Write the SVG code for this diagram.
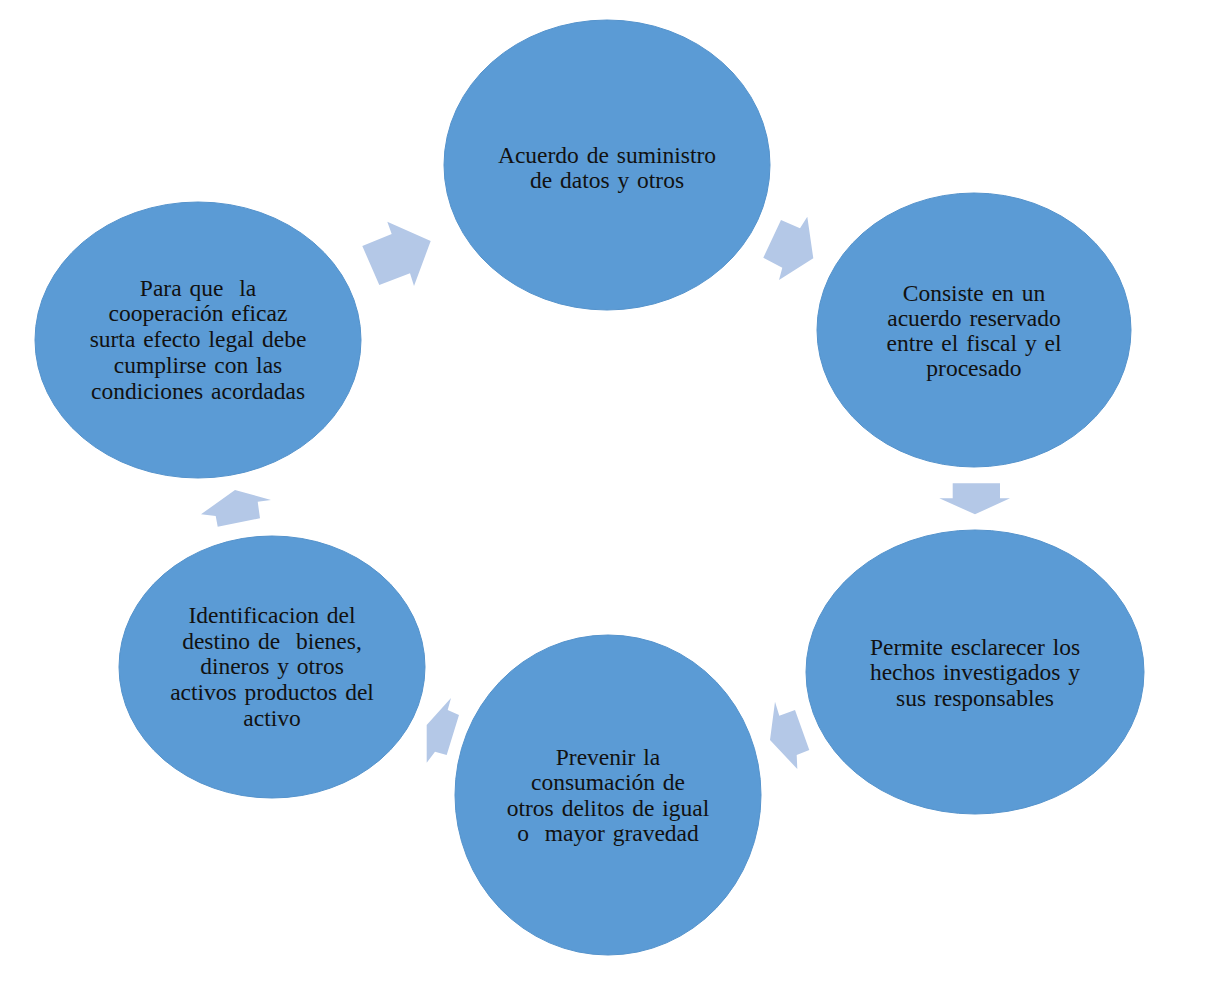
<svg xmlns="http://www.w3.org/2000/svg" width="1207" height="991" viewBox="0 0 1207 991" xml:space="preserve">
<style>
.n{fill:#5B9BD5;stroke:#5593CC;stroke-width:1}
.a{fill:#B4C8E7}
text{font-family:"Liberation Serif","Times New Roman",serif;font-size:23.5px;fill:#111;text-anchor:middle;word-spacing:2px;white-space:pre}
</style>
<rect width="1207" height="991" fill="#fff"/>
<g id="connectors">
<polygon class="a" points="362.3,246 391.7,234 387.3,221.7 430.7,241 414,286 410,273.3 379.3,285"/>
<polygon class="a" points="781,220 800,228.3 807.3,216.7 813.3,258.3 779,280 782.3,267.7 763.3,257.7"/>
<polygon class="a" points="952.7,483.3 1000,483.3 1000,498.3 1010,498.3 975,514.3 939.3,498.3 952.7,498.3"/>
<polygon class="a" points="775,701.7 779.3,715.7 795,710 809.3,750 796.7,755 797.3,769 770,740"/>
<polygon class="a" points="451,698 447.7,710 459,715 446.7,755 435,751.7 426.7,762.7 426.7,725"/>
<polygon class="a" points="217.7,526.7 215.7,516 201,514.3 235,490 271,500 257.7,501.7 260,518.3"/>
</g>
<g id="node1">
<ellipse class="n" cx="607" cy="165" rx="163" ry="145"/>
<text x="607" y="163">Acuerdo de suministro</text>
<text x="607" y="188">de datos y otros</text>
</g>
<g id="node2">
<ellipse class="n" cx="974" cy="330" rx="157" ry="137"/>
<text x="974" y="301">Consiste en un</text>
<text x="974" y="326">acuerdo reservado</text>
<text x="974" y="351">entre el fiscal y el</text>
<text x="974" y="376">procesado</text>
</g>
<g id="node3">
<ellipse class="n" cx="975" cy="672" rx="169" ry="142"/>
<text x="975" y="655">Permite esclarecer los</text>
<text x="975" y="680">hechos investigados y</text>
<text x="975" y="706">sus responsables</text>
</g>
<g id="node4">
<ellipse class="n" cx="608" cy="795" rx="153" ry="160"/>
<text x="608" y="765">Prevenir la</text>
<text x="608" y="790">consumación de</text>
<text x="608" y="816">otros delitos de igual</text>
<text x="608" y="841">o  mayor gravedad</text>
</g>
<g id="node5">
<ellipse class="n" cx="272" cy="667" rx="153" ry="131"/>
<text x="272" y="623">Identificacion del</text>
<text x="272" y="649">destino de  bienes,</text>
<text x="272" y="674">dineros y otros</text>
<text x="272" y="700">activos productos del</text>
<text x="272" y="726">activo</text>
</g>
<g id="node6">
<ellipse class="n" cx="198" cy="340" rx="163" ry="138"/>
<text x="198" y="296">Para que  la</text>
<text x="198" y="321">cooperación eficaz</text>
<text x="198" y="347">surta efecto legal debe</text>
<text x="198" y="373">cumplirse con las</text>
<text x="198" y="399">condiciones acordadas</text>
</g>
</svg>
